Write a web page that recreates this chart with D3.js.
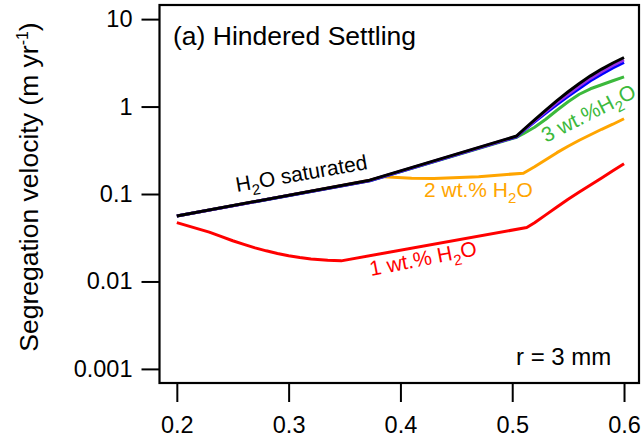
<!DOCTYPE html>
<html>
<head>
<meta charset="utf-8">
<script src="https://cdn.jsdelivr.net/npm/d3@7"></script>
<style>
  html, body { margin: 0; padding: 0; background: #fff; }
  svg { display: block; }
  text { font-family: "Liberation Sans", Arial, Helvetica, sans-serif; }
</style>
</head>
<body>
<svg id="chart" width="641" height="444"></svg>
<script>
// Melt fraction (x) and segregation velocity in m/yr (y) for each water content
const satX = [0.2, 0.3725, 0.504, 0.51, 0.52, 0.53, 0.54, 0.55, 0.56, 0.57, 0.58, 0.59, 0.6];
const satY = [0.056, 0.144, 0.461, 0.543, 0.706, 0.912, 1.168, 1.476, 1.836, 2.244, 2.683, 3.15, 3.64];

const purpleX = [0.2, 0.3725, 0.504, 0.51, 0.52, 0.53, 0.54, 0.55, 0.56, 0.57, 0.58, 0.59, 0.6];
const purpleY = [0.056, 0.143, 0.456, 0.536, 0.688, 0.876, 1.108, 1.382, 1.72, 2.10, 2.51, 2.95, 3.41];

const blueX = [0.2, 0.3725, 0.504, 0.51, 0.52, 0.53, 0.54, 0.55, 0.56, 0.57, 0.58, 0.59, 0.6];
const blueY = [0.056, 0.142, 0.451, 0.529, 0.670, 0.843, 1.051, 1.31, 1.61, 1.97, 2.35, 2.76, 3.19];

const wt3X = [0.2, 0.3725, 0.504, 0.51, 0.52, 0.53, 0.54, 0.55, 0.56, 0.57, 0.58, 0.59, 0.6];
const wt3Y = [0.056, 0.142, 0.446, 0.489, 0.580, 0.716, 0.907, 1.135, 1.383, 1.597, 1.775, 1.972, 2.19];

const wt2X = [0.2, 0.3725, 0.385, 0.41, 0.43, 0.47, 0.51, 0.52, 0.53, 0.54, 0.55, 0.56, 0.57, 0.58, 0.59, 0.6];
const wt2Y = [0.056, 0.144, 0.158, 0.151, 0.150, 0.158, 0.173, 0.205, 0.247, 0.297, 0.352, 0.412, 0.476, 0.550, 0.628, 0.726];

const wt1X = [0.2, 0.229, 0.24, 0.25, 0.26, 0.27, 0.28, 0.29, 0.30, 0.31, 0.32, 0.335, 0.347,
              0.513, 0.52, 0.53, 0.54, 0.55, 0.56, 0.57, 0.58, 0.59, 0.6];
const wt1Y = [0.047, 0.0366, 0.0325, 0.0292, 0.0265, 0.0242, 0.0224, 0.0209, 0.0197, 0.0188, 0.0181, 0.0175, 0.0172,
              0.0414, 0.047, 0.0577, 0.071, 0.0872, 0.1055, 0.1268, 0.1528, 0.1846, 0.222];

const xTicks = [0.2, 0.3, 0.4, 0.5, 0.6];
const yTicks = [0.001, 0.01, 0.1, 1, 10];
const yTickLabels = ["0.001", "0.01", "0.1", "1", "10"];

const svg = d3.select("#chart");
const plotLeft = 159.5, plotRight = 639, plotTop = 5, plotBottom = 383;

const x = d3.scaleLinear().domain([0.1845, 0.6134]).range([plotLeft, plotRight]);
const y = d3.scaleLog().domain([0.00069, 14.5]).range([plotBottom, plotTop]);

const font = '"Liberation Sans", Arial, Helvetica, sans-serif';

// Axes
const xAxis = d3.axisBottom(x).tickValues(xTicks).tickFormat(d3.format(".1f"))
  .tickSizeInner(19).tickSizeOuter(0).tickPadding(14);
const gx = svg.append("g").attr("transform", `translate(0,${plotBottom})`).call(xAxis);

const yAxis = d3.axisLeft(y).tickValues(yTicks).tickFormat((d, i) => yTickLabels[i])
  .tickSizeInner(18).tickSizeOuter(0).tickPadding(9);
const gy = svg.append("g").attr("transform", `translate(${plotLeft},0)`).call(yAxis);

[gx, gy].forEach(g => {
  g.select(".domain").remove();
  g.selectAll(".tick line").attr("stroke", "#000").attr("stroke-width", 2);
  g.selectAll(".tick text").attr("fill", "#000").style("font-family", font).style("font-size", "23.5px");
});

// Frame
svg.append("rect")
  .attr("x", plotLeft).attr("y", plotTop)
  .attr("width", plotRight - plotLeft).attr("height", plotBottom - plotTop)
  .attr("fill", "none").attr("stroke", "#000").attr("stroke-width", 2.2);

// Series
const line = d3.line().x(d => x(d[0])).y(d => y(d[1]));
const series = [
  { xs: wt1X, ys: wt1Y, color: "#ff0000" },
  { xs: wt2X, ys: wt2Y, color: "#ffa500" },
  { xs: wt3X, ys: wt3Y, color: "#3cb93c" },
  { xs: blueX, ys: blueY, color: "#0000ff" },
  { xs: purpleX, ys: purpleY, color: "#9932e6" },
  { xs: satX, ys: satY, color: "#000000" }
];
series.forEach(s => {
  svg.append("path")
    .datum(s.xs.map((v, i) => [v, s.ys[i]]))
    .attr("d", line)
    .attr("fill", "none")
    .attr("stroke", s.color)
    .attr("stroke-width", 3)
    .attr("stroke-linejoin", "round");
});

// Y axis title
const yt = svg.append("text")
  .attr("transform", "translate(38,187) rotate(-90)")
  .attr("text-anchor", "middle")
  .style("font-size", "26.5px").attr("fill", "#000");
yt.append("tspan").text("Segregation velocity (m yr");
yt.append("tspan").attr("dy", -10).style("font-size", "16px").text("-1");
yt.append("tspan").attr("dy", 10).text(")");

// Panel title and radius note
svg.append("text").attr("x", 173).attr("y", 45)
  .style("font-size", "26.5px").attr("fill", "#000").text("(a) Hindered Settling");
svg.append("text").attr("x", 516).attr("y", 365)
  .style("font-size", "24px").attr("fill", "#000").text("r = 3 mm");

// Curve labels with subscripted H2O
function h2oLabel(prefix, suffix, color, tx, ty, angle) {
  const t = svg.append("text")
    .attr("transform", `translate(${tx},${ty}) rotate(${angle})`)
    .style("font-size", "21px").attr("fill", color);
  t.append("tspan").text(prefix + "H");
  t.append("tspan").attr("dy", 6).style("font-size", "15px").text("2");
  t.append("tspan").attr("dy", -6).text("O" + suffix);
  return t;
}
h2oLabel("", " saturated", "#000", 237, 192, -10);
h2oLabel("2 wt.% ", "", "#ffa500", 424, 197, 0);
h2oLabel("1 wt.% ", "", "#ff0000", 371, 276, -11);
h2oLabel("3 wt.%", "", "#3cb93c", 546, 143, -27);
</script>
</body>
</html>
